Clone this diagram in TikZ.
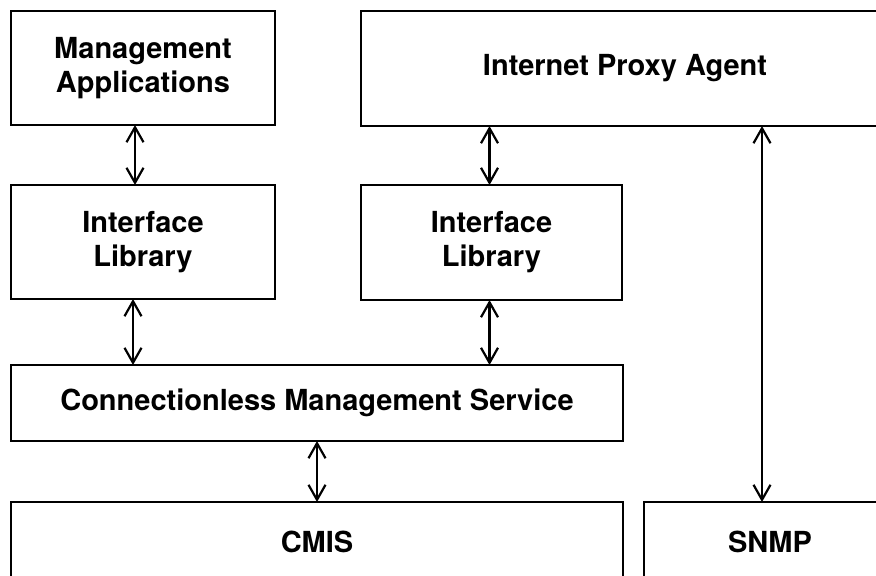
\documentclass[tikz,border=0pt]{standalone}
\usepackage{fontspec}
\setmainfont{TeX Gyre Heros}
\usetikzlibrary{arrows.meta}
\tikzset{
	box/.style={draw, line width=1pt, inner sep=0pt, outer sep=0pt, align=center,
		font=\fontsize{14.5pt}{17pt}\selectfont\bfseries},
	arr/.style={{Straight Barb[length=7.5pt,width=8.5pt]}-{Straight Barb[length=7.5pt,width=8.5pt]}, line width=1.1pt}
}
\begin{document}
\begin{tikzpicture}[x=0.5pt,y=-0.5pt]
		\useasboundingbox (0,0) rectangle (876,575);
		\clip (0,0) rectangle (876,575);
		\node[box, minimum width=132pt, minimum height=57pt] (mapps) at (143,68) {Management\\Applications};
		\node[box, minimum width=264pt, minimum height=57.5pt] (proxy) at (625,68.5) {Internet Proxy Agent};
		\node[box, minimum width=132pt, minimum height=57pt] (libl) at (143,242) {Interface\\Library};
		\node[box, minimum width=130.5pt, minimum height=57.5pt] (libr) at (491.5,242.5) {Interface\\Library};
		\node[box, minimum width=306pt, minimum height=38pt] (cms) at (317,403) {Connectionless Management Service};
		\node[box, minimum width=306pt, minimum height=40pt] (cmis) at (317,542) {CMIS};
		\node[box, minimum width=126pt, minimum height=40pt] (snmp) at (770,542) {SNMP};
		\draw [arr] ([xshift=-4pt]mapps.south)--([xshift=-4pt]libl.north);
		\draw [arr] ([xshift=-1pt]proxy.south -| libr.north)--([xshift=-1pt]libr.north);
		\draw [arr] ([xshift=-5pt]libl.south)--([xshift=-5pt]libl.south |- cms.north);
		\draw [arr] ([xshift=-1pt]libr.south)--([xshift=-1pt]libr.south |- cms.north);
		\draw [arr] (cms.south)--(cmis.north);
		\draw [arr] ([xshift=-4pt]snmp.north |- proxy.south)--([xshift=-4pt]snmp.north);
	\end{tikzpicture}
\end{document}
